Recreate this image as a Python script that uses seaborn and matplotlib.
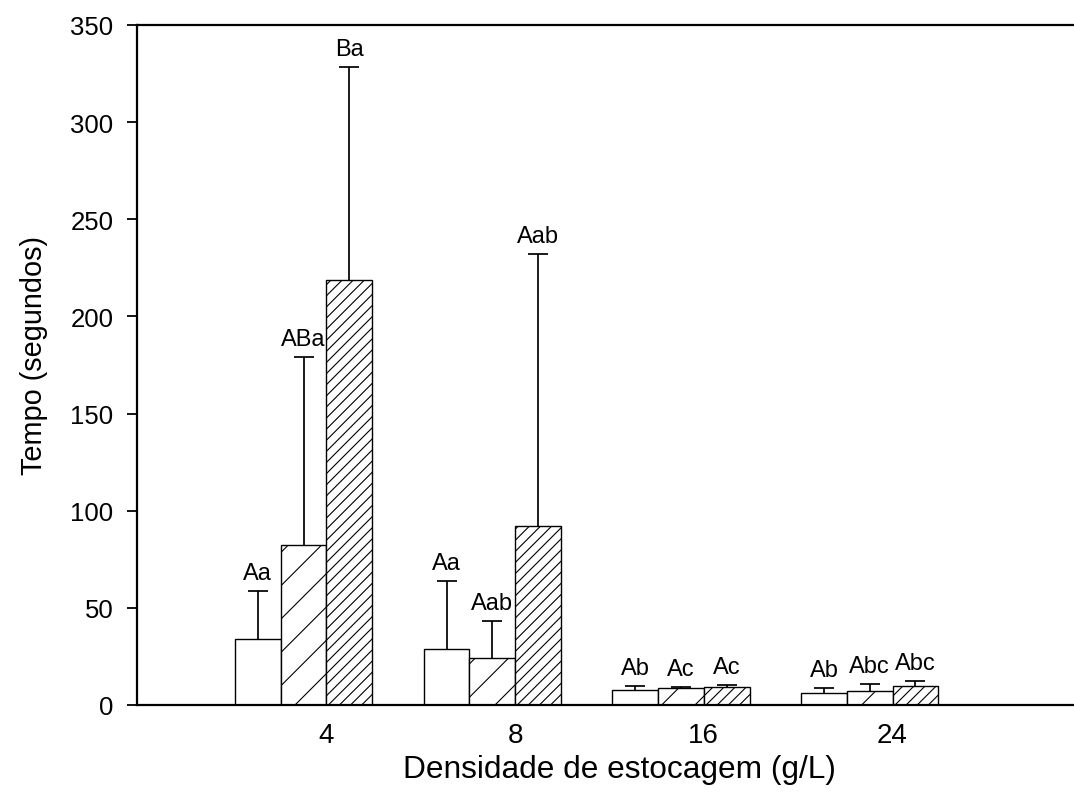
import numpy as np
import pandas as pd
import matplotlib
matplotlib.use("Agg")
import matplotlib.pyplot as plt
import seaborn as sns

# data
densidades = ["4", "8", "16", "24"]
tratamentos = ["T1", "T2", "T3"]
media_t1 = [34.0, 28.8, 7.9, 6.0]
media_t2 = [82.5, 24.3, 8.6, 7.4]
media_t3 = [218.7, 92.1, 9.1, 9.9]
erro_t1 = [24.8, 35.2, 2.0, 2.6]
erro_t2 = [96.5, 19.1, 0.8, 3.4]
erro_t3 = [109.7, 140.0, 1.2, 2.3]
letras_t1 = ["Aa", "Aa", "Ab", "Ab"]
letras_t2 = ["ABa", "Aab", "Ac", "Abc"]
letras_t3 = ["Ba", "Aab", "Ac", "Abc"]

medias = [media_t1, media_t2, media_t3]
erros = [erro_t1, erro_t2, erro_t3]
letras = [letras_t1, letras_t2, letras_t3]

df = pd.DataFrame({
    "densidade": np.tile(densidades, len(tratamentos)),
    "tratamento": np.repeat(tratamentos, len(densidades)),
    "tempo": np.concatenate(medias),
})

sns.set_style("ticks")
plt.rcParams["font.family"] = ["Liberation Sans", "DejaVu Sans"]
plt.rcParams["hatch.linewidth"] = 0.8
plt.rcParams["hatch.color"] = "black"
plt.rcParams["text.color"] = "black"
plt.rcParams["axes.labelcolor"] = "black"
plt.rcParams["xtick.color"] = "black"
plt.rcParams["ytick.color"] = "black"

fig = plt.figure(figsize=(10.74, 8.04), dpi=100)
ax = fig.add_axes([0.1276, 0.1219, 0.8724, 0.8458])

group_width = 0.727
sns.barplot(data=df, x="densidade", y="tempo", hue="tratamento",
            order=densidades, hue_order=tratamentos,
            palette=["white"] * 3, edgecolor="black", linewidth=1.0,
            width=group_width, errorbar=None, legend=False, saturation=1, ax=ax)

hatches = ["", "/", "///"]
for cont, hatch, err, lab in zip(ax.containers, hatches, erros, letras):
    xs, tops = [], []
    for bar in cont:
        bar.set_hatch(hatch)
        bar.set_facecolor("white")
        bar.set_edgecolor("black")
        xs.append(bar.get_x() + bar.get_width() / 2)
        tops.append(bar.get_height())
    ends = np.array(tops) + np.array(err)
    # upper error bars only: stem + cap
    ax.vlines(xs, tops, ends, color="black", linewidth=1.25, zorder=3)
    ax.plot(xs, ends, ls="none", marker="_", markersize=14.6, mew=1.25,
            color="black", zorder=3)
    for x, y, s in zip(xs, ends, lab):
        ax.annotate(s, (x, y), xytext=(0, 8.5), textcoords="offset points",
                    ha="center", va="baseline", fontsize=17)

bar_w = group_width / 3
ax.set_xticks([i + bar_w / 2 for i in range(len(densidades))], labels=densidades)
ax.set_xlim(-0.8824, 4.083)
ax.set_ylim(0, 350)
ax.set_yticks(range(0, 351, 50))

ax.tick_params(axis="x", length=0, pad=12, labelsize=20)
ax.tick_params(axis="y", direction="out", length=7, width=1.3, pad=10, labelsize=18.5)

for side in ["left", "bottom", "top"]:
    ax.spines[side].set_linewidth(1.6)
    ax.spines[side].set_color("black")
ax.spines["right"].set_visible(False)

ax.set_xlabel("Densidade de estocagem (g/L)", fontsize=22.8)
ax.set_ylabel("Tempo (segundos)", fontsize=20.8)
ax.xaxis.set_label_coords(0.515, -0.072)
ax.yaxis.set_label_coords(-0.095, 0.515)

fig.savefig("out.png", dpi=100)
